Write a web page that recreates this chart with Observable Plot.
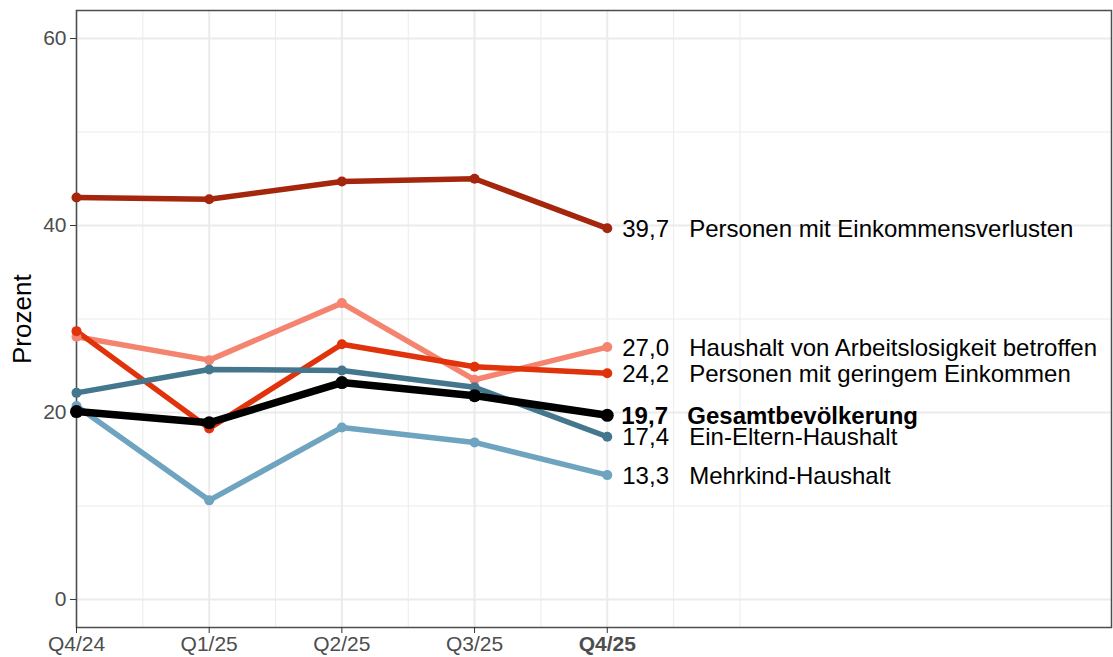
<!DOCTYPE html>
<html>
<head>
<meta charset="utf-8">
<script src="https://cdn.jsdelivr.net/npm/d3@7"></script>
<script src="https://cdn.jsdelivr.net/npm/@observablehq/plot@0.6"></script>
<style>
  html, body { margin: 0; padding: 0; background: #fff; }
  #chart svg { display: block; }
</style>
</head>
<body>
<div id="chart"></div>
<script>
// ---- data ----
const quarters = ["Q4/24", "Q1/25", "Q2/25", "Q3/25", "Q4/25"];
const seriesNames = [
  "Personen mit Einkommensverlusten",
  "Haushalt von Arbeitslosigkeit betroffen",
  "Personen mit geringem Einkommen",
  "Ein-Eltern-Haushalt",
  "Mehrkind-Haushalt",
  "Gesamtbevölkerung"
];
const seriesColors = ["#A3260D", "#F4846F", "#E0330C", "#44768E", "#6EA4BF", "#000000"];
const einkommensverluste = [43.0, 42.8, 44.7, 45.0, 39.7];
const arbeitslosigkeit   = [28.1, 25.6, 31.7, 23.5, 27.0];
const geringesEinkommen  = [28.7, 18.3, 27.3, 24.9, 24.2];
const einEltern          = [22.1, 24.6, 24.5, 22.7, 17.4];
const mehrkind           = [20.7, 10.6, 18.4, 16.8, 13.3];
const gesamt             = [20.1, 18.9, 23.2, 21.8, 19.7];
const seriesValues = [einkommensverluste, arbeitslosigkeit, geringesEinkommen, einEltern, mehrkind, gesamt];

const yMajor = [0, 20, 40, 60];
const yMinor = [10, 30, 50];
const xMajor = [0, 1, 2, 3, 4];
const xMinor = [0.5, 1.5, 2.5, 3.5, 4.5, 5];

// ---- table ----
const rows = [];
seriesNames.forEach((s, k) => seriesValues[k].forEach((v, i) => rows.push({series: s, i, value: v})));
const total = "Gesamtbevölkerung";
const others = rows.filter(d => d.series !== total);
const totalRows = rows.filter(d => d.series === total);
const last = rows.filter(d => d.i === quarters.length - 1);
const fmt = v => v.toFixed(1).replace(".", ",");

const font = "'Liberation Sans', Arial, sans-serif";

const chart = Plot.plot({
  width: 1113,
  height: 657,
  marginLeft: 76,
  marginRight: 2,
  marginTop: 10,
  marginBottom: 30,
  style: {fontFamily: font, background: "#fff"},
  x: {domain: [0, 7.8]},
  y: {domain: [-3, 63]},
  color: {domain: seriesNames, range: seriesColors},
  marks: [
    Plot.ruleY(yMinor, {stroke: "#EBEBEB", strokeWidth: 1}),
    Plot.ruleX(xMinor, {stroke: "#EBEBEB", strokeWidth: 1}),
    Plot.ruleY(yMajor, {stroke: "#EBEBEB", strokeWidth: 2}),
    Plot.ruleX(xMajor, {stroke: "#EBEBEB", strokeWidth: 2}),
    Plot.frame({stroke: "#4d4d4d", strokeWidth: 1.5}),
    Plot.axisY(yMajor, {tickSize: 6, tickPadding: 4, fontSize: 21, color: "#4D4D4D", stroke: "#333", label: null}),
    Plot.axisX(xMajor.slice(0, 4), {tickSize: 6, tickPadding: 3, fontSize: 21, color: "#4D4D4D", stroke: "#333", tickFormat: i => quarters[i], label: null}),
    Plot.axisX(xMajor.slice(4), {tickSize: 6, tickPadding: 3, fontSize: 21, fontWeight: "bold", color: "#4D4D4D", stroke: "#333", tickFormat: i => quarters[i], label: null}),
    Plot.text(["Prozent"], {frameAnchor: "left", rotate: -90, dx: -54, dy: 45, fontSize: 26, fill: "#000"}),
    Plot.line(others, {x: "i", y: "value", z: "series", stroke: "series", strokeWidth: 5.5, strokeLinejoin: "round", strokeLinecap: "round"}),
    Plot.dot(others, {x: "i", y: "value", fill: "series", r: 5}),
    Plot.line(totalRows, {x: "i", y: "value", z: "series", stroke: "series", strokeWidth: 7.5, strokeLinejoin: "round", strokeLinecap: "round"}),
    Plot.dot(totalRows, {x: "i", y: "value", fill: "series", r: 6.5}),
    Plot.text(last.filter(d => d.series !== total), {x: "i", y: "value", text: d => fmt(d.value), dx: 15, dy: 1, textAnchor: "start", fontSize: 24, fill: "#000"}),
    Plot.text(last.filter(d => d.series !== total), {x: "i", y: "value", text: "series", dx: 82, dy: 1, textAnchor: "start", fontSize: 24, fill: "#000"}),
    Plot.text(last.filter(d => d.series === total), {x: "i", y: "value", text: d => fmt(d.value), dx: 14, dy: 1, textAnchor: "start", fontSize: 24, fontWeight: "bold", fill: "#000"}),
    Plot.text(last.filter(d => d.series === total), {x: "i", y: "value", text: "series", dx: 80, dy: 1, textAnchor: "start", fontSize: 24, fontWeight: "bold", fill: "#000"})
  ]
});
document.getElementById("chart").appendChild(chart);
</script>
</body>
</html>
